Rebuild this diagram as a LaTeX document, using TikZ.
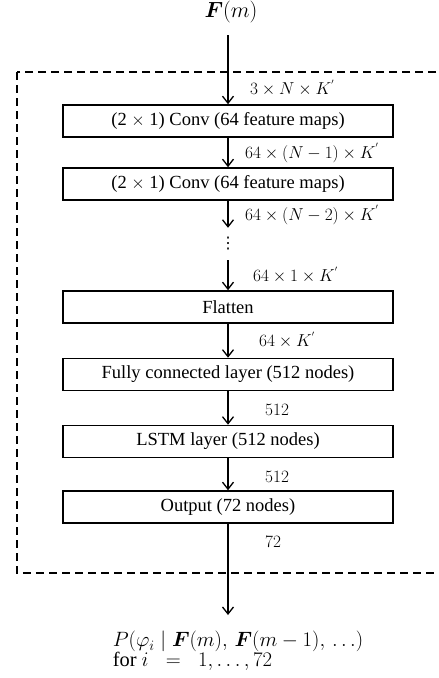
\documentclass[tikz,border=0pt]{standalone}
\usepackage{amsmath,bm}
\usepackage{fontspec}
\setmainfont{Liberation Serif}
\newfontfamily\dejavufont{DejaVu Sans}
\usetikzlibrary{arrows.meta}
\begin{document}
\begin{tikzpicture}[x=1pt,y=-1pt,
  layerbox/.style={draw,line width=1.6pt,minimum width=330pt,minimum height=32pt,inner sep=0pt,font=\fontsize{18.5}{20}\selectfont},
  flow/.style={-{Straight Barb[length=7pt,width=11pt,line width=1.3pt]},line width=1.5pt},
  dimlabel/.style={anchor=west,inner sep=0pt,font=\fontsize{17}{19}\selectfont},
  dashbox/.style={dashed,dash pattern=on 8pt off 5pt,line width=1.5pt}]
\useasboundingbox (0,0) rectangle (439,678);
\draw[dashbox] (17,72) rectangle (460,573);
\node[inner sep=0pt,font=\fontsize{17}{19}\selectfont] (fm) at (231,12) {\scalebox{1.27}{$\bm{F}(m)$}};
\node[layerbox] (b1) at (228,121) {(2 $\times$ 1) Conv (64 feature maps)};
\node[layerbox] (b2) at (228,184) {(2 $\times$ 1) Conv (64 feature maps)};
\node[inner sep=0pt,minimum height=32pt,font=\dejavufont\fontsize{16}{16}\selectfont] (dots) at (228,244) {⋮};
\node[layerbox] (fl) at (228,307) {Flatten};
\node[layerbox] (fc) at (228,374.5) {Fully connected layer (512 nodes)};
\node[layerbox] (ls) at (228,441.5) {LSTM layer (512 nodes)};
\node[layerbox] (out) at (228,507) {Output (72 nodes)};
\node[inner sep=0pt,font=\fontsize{17}{19}\selectfont] (res) at (238,652)
  {\scalebox{1.2}{\begin{tabular}{@{}l@{}}$P(\varphi_i\mid \bm{F}(m),\, \bm{F}(m-1),\, \ldots)$\\[-3pt] for $i\;\;=\;\;1,\ldots,72$\end{tabular}}};
\coordinate (fmtop) at ([yshift=-12pt]fm.south -| b1.north);
\coordinate (resend) at (out.south |- 0,615);
\draw[flow] (fmtop) -- (b1.north);
\draw[flow] (b1) -- (b2);
\draw[flow] (b2) -- (dots);
\draw[flow] (dots) -- (fl);
\draw[flow] (fl) -- (fc);
\draw[flow] (fc) -- (ls);
\draw[flow] (ls) -- (out);
\draw[flow] (out.south) -- (resend);
\node[dimlabel] (l1) at (250,88) {$3\times N\times K^{'}$};
\node[dimlabel] (l2) at (245,153) {$64\times (N-1)\times K^{'}$};
\node[dimlabel] (l3) at (245,215) {$64\times (N-2)\times K^{'}$};
\node[dimlabel] (l4) at (253,275) {$64\times 1\times K^{'}$};
\node[dimlabel] (l5) at (259,340) {$64\times K^{'}$};
\node[dimlabel] (l6) at (265,410) {$512$};
\node[dimlabel] (l7) at (265,477) {$512$};
\node[dimlabel] (l8) at (265,542) {$72$};
\end{tikzpicture}
\end{document}
